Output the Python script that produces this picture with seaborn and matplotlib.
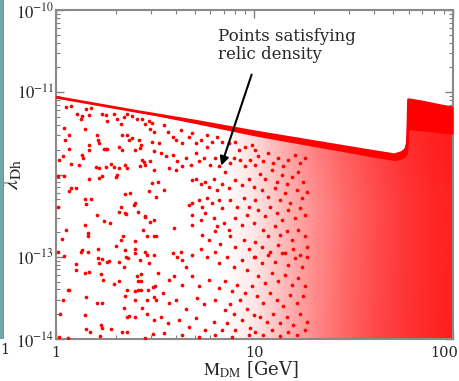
import numpy as np
import pandas as pd
import matplotlib
matplotlib.use("Agg")
import matplotlib.pyplot as plt
import matplotlib.transforms as mtransforms
import seaborn as sns
from matplotlib.patches import Polygon, Rectangle
from matplotlib.colors import LinearSegmentedColormap

# ---------------- data (log10 M_DM [GeV], log10 lambda_Dh) ----------------
# upper edge of the relic-density region (with the Higgs-resonance spike)
edge_log_m = [0.0, 0.4, 0.7, 1.0, 1.3, 1.5, 1.6, 1.68, 1.705, 1.745, 1.762, 1.770, 1.773, 1.776, 1.85, 1.95, 2.0]
edge_log_lam = [-11.06, -11.23, -11.35, -11.48, -11.60, -11.68, -11.72, -11.75, -11.76, -11.73, -11.69, -11.62, -11.40, -11.09, -11.12, -11.17, -11.19]
# lower edge of the solid band of points just below that edge
band_log_lam = [-11.06, -11.235, -11.38, -11.53, -11.66, -11.745, -11.79, -11.82, -11.83, -11.81, -11.78, -11.74, -11.66, -11.46, -11.47, -11.50, -11.51]

# fraction of the area covered by points in the dense part (x > ~8 GeV)
cover_log_m = [0.85, 1.0, 1.15, 1.3, 1.45, 1.6, 1.75, 1.9, 2.0]
cover_log_lam = [-14.0, -12.4, -11.0]
cover_frac_bottom = [0.0, 0.10, 0.28, 0.46, 0.60, 0.71, 0.79, 0.85, 0.88]
cover_frac_middle = [0.0, 0.10, 0.27, 0.44, 0.58, 0.69, 0.78, 0.84, 0.87]
cover_frac_top = [0.0, 0.18, 0.38, 0.55, 0.66, 0.75, 0.83, 0.88, 0.90]

pts_low_top = [
    (.05, -11.18), (.075, -11.17), (.108, -11.27), (.125, -11.33), (.13, -11.29), (.147, -11.45), (.15, -11.20),
    (.167, -11.28), (.175, -11.19), (.25, -11.28), (.258, -11.35), (.233, -11.26), (.292, -11.26), (.308, -11.33),
    (.325, -11.39), (.342, -11.30), (.358, -11.27), (.383, -11.29), (.408, -11.33), (.433, -11.33), (.467, -11.35),
    (.483, -11.37), (.45, -11.39), (.475, -11.45), (.492, -11.48), (.067, -11.52), (.047, -11.58), (.042, -11.43),
    (.208, -11.52), (.213, -11.58), (.217, -11.62), (.333, -11.52), (.358, -11.52), (.367, -11.58), (.383, -11.56),
    (.417, -11.58), (.167, -11.64), (.167, -11.70), (.063, -11.69), (.242, -11.69), (.25, -11.69), (.258, -11.69),
    (.317, -11.67), (.333, -11.70), (.40, -11.70), (.43, -11.64), (.425, -11.68), (.483, -11.60), (.492, -11.72),
    (.017, -11.82), (.033, -11.77), (.075, -11.87), (.117, -11.88), (.133, -11.76), (.138, -11.80), (.20, -11.91),
    (.217, -11.92), (.233, -12.02), (.25, -11.91), (.275, -11.87), (.292, -11.91), (.317, -11.92), (.308, -12.00),
    (.35, -11.89), (.358, -11.92), (.433, -11.82), (.442, -11.85), (.45, -11.88), (.425, -11.90), (.475, -11.84),
    (.492, -11.94), (.008, -12.02), (.042, -12.02), (.10, -12.16), (.075, -12.16), (.067, -12.20), (.167, -12.06),
    (.217, -12.04), (.30, -12.03), (.35, -12.24), (.375, -12.22), (.483, -12.10), (.467, -12.20), (.147, -12.30),
    (.15, -12.36), (.175, -12.30), (.392, -12.37), (.40, -12.35), (.325, -12.39), (.35, -12.47), (.45, -12.51),
    (.008, -12.39),
]
pts_low_bottom = [
    (.208, -12.49), (.317, -12.45), (.353, -12.48), (.413, -12.45), (.447, -12.52), (.475, -12.58), (.492, -12.55),
    (.147, -12.61), (.242, -12.57), (.27, -12.59), (.163, -12.71), (.163, -12.75), (.05, -12.68), (.03, -12.79),
    (.437, -12.68), (.458, -12.75), (.492, -12.75), (.337, -12.75), (.325, -12.80), (.30, -12.87), (.397, -12.81),
    (.213, -12.91), (.008, -12.94), (.042, -12.99), (.13, -12.92), (.125, -12.94), (.16, -12.94), (.213, -13.01),
    (.233, -13.03), (.258, -13.06), (.267, -13.05), (.317, -13.06), (.35, -12.92), (.353, -13.00), (.363, -13.01),
    (.397, -12.96), (.40, -12.91), (.447, -12.94), (.458, -12.98), (.425, -13.04), (.467, -13.08), (.492, -12.98),
    (.103, -13.09), (.10, -13.16), (.167, -13.18), (.147, -13.20), (.217, -13.08), (.225, -13.21), (.342, -13.12),
    (.43, -13.21), (.408, -13.24), (.413, -13.29), (.43, -13.29), (.237, -13.28), (.292, -13.33), (.317, -13.29),
    (.358, -13.40), (.40, -13.42), (.413, -13.41), (.43, -13.40), (.463, -13.41), (.487, -13.37), (.497, -13.35),
    (.058, -13.40), (.067, -13.40), (.033, -13.52), (.153, -13.49), (.208, -13.56), (.23, -13.56), (.35, -13.48),
    (.397, -13.52), (.458, -13.52), (.492, -13.49), (.342, -13.62), (.433, -13.62), (.02, -13.69), (.147, -13.71),
    (.358, -13.73), (.37, -13.72), (.397, -13.73), (.458, -13.69), (.492, -13.77), (.225, -13.83), (.233, -13.87),
    (.153, -13.88), (.17, -13.92), (.275, -13.88), (.333, -13.92), (.358, -13.92), (.22, -13.96), (.017, -13.97),
    (.058, -13.99), (.447, -13.99), (.487, -13.94),
]
pts_mid = [
    (.52, -11.62), (.545, -11.40), (.562, -11.48), (.587, -11.54), (.603, -11.58), (.628, -11.46), (.637, -11.62),
    (.67, -11.54), (.687, -11.50), (.703, -11.62), (.728, -11.58), (.762, -11.52), (.762, -11.66), (.787, -11.60),
    (.812, -11.54), (.837, -11.60), (.87, -11.62), (.903, -11.60), (.92, -11.70), (.953, -11.66), (.987, -11.64),
    (1.003, -11.70), (.528, -11.74), (.553, -11.78), (.587, -11.76), (.612, -11.84), (.653, -11.80), (.678, -11.88),
    (.703, -11.74), (.72, -11.84), (.745, -11.80), (.778, -11.88), (.803, -11.80), (.82, -11.90), (.853, -11.97),
    (.878, -11.86), (.895, -11.80), (.928, -11.82), (.953, -11.90), (.978, -11.82), (1.003, -11.88), (.57, -11.92),
    (.603, -11.94), (.637, -11.90), (.687, -12.07), (.703, -12.05), (.728, -12.11), (.753, -12.09), (.77, -12.15),
    (.795, -12.05), (.812, -12.19), (.837, -12.11), (.87, -12.17), (.903, -12.07), (.937, -12.13), (.97, -12.05),
    (.995, -12.15), (.512, -12.09), (.545, -12.19), (.503, -12.27), (.67, -12.37), (.687, -12.35), (.72, -12.31),
    (.737, -12.39), (.762, -12.29), (.787, -12.35), (.82, -12.31), (.837, -12.41), (.878, -12.31), (.912, -12.39),
    (.945, -12.29), (.97, -12.39), (1.003, -12.31), (.687, -12.49), (.728, -12.55), (.753, -12.47), (.795, -12.53),
    (.812, -12.63), (.845, -12.59), (.87, -12.67), (.903, -12.53), (.937, -12.61), (.962, -12.49), (.995, -12.59),
    (.503, -12.75), (.595, -12.65), (.687, -12.61), (.737, -12.73), (.77, -12.80), (.803, -12.69), (.828, -12.84),
    (.878, -12.75), (.903, -12.88), (.945, -12.80), (.97, -12.90), (1.003, -12.82), (.587, -12.96), (.612, -13.00),
    (.628, -12.94), (.637, -13.04), (.653, -13.12), (.687, -12.98), (.728, -12.90), (.762, -13.00), (.803, -12.94),
    (.82, -13.08), (.862, -13.00), (.895, -13.12), (.937, -13.04), (.962, -13.16), (.995, -13.00), (.512, -13.20),
    (.57, -13.28), (.595, -13.24), (.637, -13.34), (.687, -13.24), (.72, -13.36), (.77, -13.28), (.82, -13.38),
    (.853, -13.30), (.887, -13.42), (.912, -13.34), (.953, -13.44), (.987, -13.36), (.537, -13.44), (.503, -13.52),
    (.57, -13.56), (.603, -13.52), (.653, -13.63), (.712, -13.50), (.745, -13.58), (.803, -13.52), (.853, -13.65),
    (.878, -13.57), (.895, -13.69), (.928, -13.52), (.962, -13.63), (.995, -13.71), (.528, -13.73), (.562, -13.81),
    (.62, -13.77), (.67, -13.85), (.703, -13.75), (.753, -13.89), (.795, -13.79), (.837, -13.89), (.862, -13.81),
    (.903, -13.89), (.937, -13.77), (.978, -13.87), (.545, -13.93), (.637, -13.95), (.72, -13.97), (.803, -13.95),
    (.887, -13.98), (.97, -13.95),
]
pts_high = [
    (1.02, -11.78), (1.045, -11.84), (1.07, -11.74), (1.095, -11.86), (1.12, -11.80), (1.145, -11.90), (1.17, -11.82),
    (1.203, -11.76), (1.228, -11.86), (1.253, -11.80), (1.028, -11.99), (1.053, -12.05), (1.087, -11.95), (1.112, -12.09),
    (1.137, -12.01), (1.162, -12.11), (1.187, -12.03), (1.22, -11.97), (1.245, -12.09), (1.037, -12.19), (1.07, -12.27),
    (1.103, -12.17), (1.128, -12.31), (1.153, -12.23), (1.178, -12.35), (1.212, -12.19), (1.237, -12.29), (1.262, -12.21),
    (1.02, -12.43), (1.053, -12.51), (1.078, -12.39), (1.112, -12.47), (1.137, -12.55), (1.17, -12.43), (1.203, -12.53),
    (1.228, -12.41), (1.253, -12.49), (1.045, -12.67), (1.07, -12.75), (1.103, -12.63), (1.128, -12.73), (1.162, -12.69),
    (1.187, -12.80), (1.22, -12.67), (1.253, -12.75), (1.037, -12.88), (1.078, -12.94), (1.12, -12.86), (1.153, -12.96),
    (1.195, -12.90), (1.228, -12.98), (1.262, -12.88),
    (1.003, -13.00), (1.037, -13.08), (1.07, -12.98), (1.103, -13.06), (1.137, -12.96), (1.17, -13.10), (1.203, -13.02),
    (1.237, -13.12), (1.262, -13.00), (1.02, -13.24), (1.053, -13.32), (1.087, -13.20), (1.12, -13.30), (1.153, -13.22),
    (1.187, -13.34), (1.22, -13.26), (1.253, -13.36), (1.012, -13.48), (1.045, -13.56), (1.078, -13.44), (1.112, -13.52),
    (1.145, -13.60), (1.178, -13.46), (1.212, -13.56), (1.245, -13.48), (1.028, -13.73), (1.062, -13.79), (1.095, -13.69),
    (1.128, -13.81), (1.162, -13.73), (1.195, -13.83), (1.228, -13.70), (1.262, -13.79), (1.003, -13.91), (1.045, -13.95),
    (1.087, -13.89), (1.128, -13.96), (1.17, -13.91), (1.212, -13.95), (1.253, -13.89),
]

arrow_tip = (0.828, -11.924)
arrow_tail = (0.99, -10.753)

# ---------------- style ----------------
sns.set_style("ticks")
plt.rcParams["font.family"] = ["DejaVu Serif"]
plt.rcParams["mathtext.fontset"] = "stix"

fig = plt.figure(figsize=(4.59, 3.81), dpi=100)
ax = fig.add_axes([56 / 459, 42 / 381, 397 / 459, 329 / 381])
ax.set_xscale("log")
ax.set_yscale("log")

# clip region under the upper edge
poly_verts = [(10 ** a, 10 ** b) for a, b in zip(edge_log_m, edge_log_lam)] + [(100, 1e-14), (1, 1e-14)]
clip_poly = Polygon(poly_verts, closed=True, transform=ax.transData, facecolor="none", edgecolor="none")
ax.add_patch(clip_poly)

# dense region drawn as coverage shading
cmap = LinearSegmentedColormap.from_list("cov", [(1, 1, 1), (1, 0, 0)])
X, Y = np.meshgrid(10 ** np.array(cover_log_m), 10 ** np.array(cover_log_lam))
C = np.vstack([cover_frac_bottom, cover_frac_middle, cover_frac_top])
mesh = ax.pcolormesh(X, Y, C, cmap=cmap, vmin=0, vmax=1, shading="gouraud", zorder=1)
mesh.set_clip_path(clip_poly)

# solid band of points along the upper edge
em = 10 ** np.array(edge_log_m)
ax.fill_between(em, 10 ** np.array(band_log_lam), 10 ** np.array(edge_log_lam), color="red", lw=0, zorder=3)
ax.plot(em, 10 ** np.array(edge_log_lam), color="red", lw=2.0, zorder=3, solid_capstyle="butt")

# scattered points
all_pts = pts_low_top + pts_low_bottom + pts_mid + pts_high
df = pd.DataFrame(all_pts, columns=["log_m", "log_lam"])
df["M"] = 10 ** df["log_m"]
df["lam"] = 10 ** df["log_lam"]
sns.scatterplot(data=df, x="M", y="lam", color="red", s=7, linewidth=0, marker="o", ax=ax, zorder=4, legend=False)

ax.set_xlim(1, 100)
ax.set_ylim(1e-14, 1e-10)

# annotation
ax.annotate("", xy=(10 ** arrow_tip[0], 10 ** arrow_tip[1]),
            xytext=(10 ** arrow_tail[0], 10 ** arrow_tail[1]),
            arrowprops=dict(arrowstyle="-|>", color="black", lw=1.5, mutation_scale=13), zorder=6)
ax.text(10 ** 0.818, 10 ** -10.215, "Points satisfying\nrelic density", fontsize=12,
        ha="left", va="top", linespacing=1.1, zorder=6)

# ticks and labels
ax.set_xticks([1, 10, 100])
ax.set_xticklabels(["1", "10", "100"])
ax.set_yticks([1e-14, 1e-13, 1e-12, 1e-11, 1e-10])
ax.set_yticklabels([r"$10^{-14}$", r"$10^{-13}$", "", r"$10^{-11}$", r"$10^{-10}$"])
ax.tick_params(which="both", direction="in", top=True, right=True, color="#7f7f7f", labelsize=10.5)
ax.tick_params(which="major", length=6, width=1)
ax.tick_params(which="minor", length=3, width=0.8)
ax.tick_params(axis="x", pad=5)
ax.tick_params(axis="y", pad=1.5, labelsize=12)
for s in ax.spines.values():
    s.set_color("#8a8a8a")
    s.set_linewidth(1.5)
# the "100" label sits slightly left-shifted so it stays inside the figure
lab100 = ax.get_xticklabels()[2]
lab100.set_horizontalalignment("right")
lab100.set_transform(lab100.get_transform() + mtransforms.ScaledTranslation(4 / 72, 0, fig.dpi_scale_trans))

ax.set_xlabel(r"$\mathrm{M_{DM}}$ [GeV]", fontsize=13)
ax.set_ylabel(r"$\lambda_{\mathrm{Dh}}$", fontsize=16)
ax.xaxis.set_label_coords(0.49, -0.062)
ax.yaxis.set_label_coords(-0.083, 0.5)

# sliver of the neighbouring panel at the left edge
fig.add_artist(Rectangle((0, 42 / 381), 3 / 459, 1 - 42 / 381, transform=fig.transFigure,
                         facecolor="#6fa8a6", edgecolor="none"))
fig.add_artist(Rectangle((3 / 459, 42 / 381), 1.2 / 459, 1 - 42 / 381, transform=fig.transFigure,
                         facecolor="#8a8a8a", edgecolor="none"))
fig.text(0.0, 31 / 381, "1", fontsize=10.5, ha="left", va="center")

fig.savefig("out.png", dpi=100)
